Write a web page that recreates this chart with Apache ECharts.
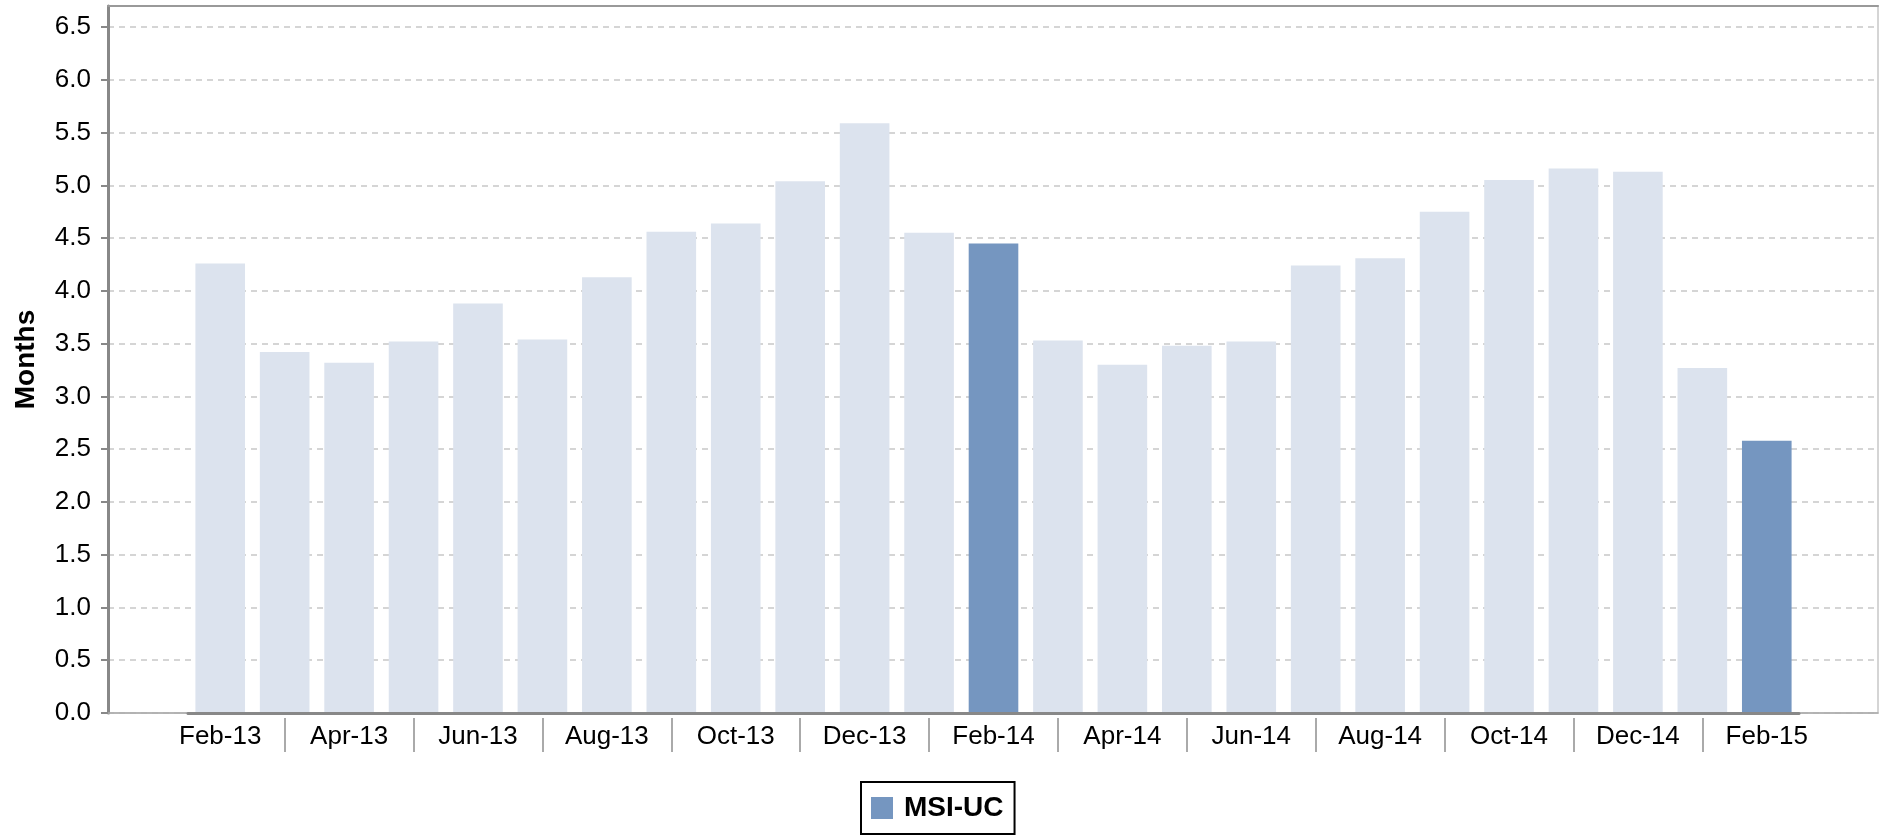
<!DOCTYPE html>
<html>
<head>
<meta charset="utf-8">
<script src="https://cdn.jsdelivr.net/npm/echarts@6/dist/echarts.min.js"></script>
<style>
html,body{margin:0;padding:0;background:#fff;}
#chart{width:1881px;height:835px;}
</style>
</head>
<body>
<div id="chart"></div>
<script>
const categories = ['Feb-13','Mar-13','Apr-13','May-13','Jun-13','Jul-13','Aug-13','Sep-13','Oct-13','Nov-13','Dec-13','Jan-14',
  'Feb-14','Mar-14','Apr-14','May-14','Jun-14','Jul-14','Aug-14','Sep-14','Oct-14','Nov-14','Dec-14','Jan-15','Feb-15'];
const values = [4.26,3.42,3.32,3.52,3.88,3.54,4.13,4.56,4.64,5.04,5.59,4.55,
  4.45,3.53,3.30,3.48,3.52,4.24,4.31,4.75,5.05,5.16,5.13,3.27,2.58];
const highlighted = ['Feb-14','Feb-15'];
const seriesName = 'MSI-UC';
const yTitle = 'Months';
const yTicks = [0,0.5,1,1.5,2,2.5,3,3.5,4,4.5,5,5.5,6,6.5];

const FONT = "'Liberation Sans', Arial, sans-serif";
const DARK = '#7596c0';
const LIGHT = '#dce3ee';
const Y_MAX = 6.7;

const chart = echarts.init(document.getElementById('chart'));
chart.setOption({
  animation: false,
  backgroundColor: '#fff',
  grid: [
    {left: 108, right: 3, top: 6, bottom: 122, show: true, borderColor: '#c8c8c8', borderWidth: 1.5, containLabel: false},
    {left: 188, right: 82, top: 6, bottom: 122, containLabel: false}
  ],
  legend: {
    data: [seriesName],
    left: 861, top: 782,
    padding: [12, 11, 12, 10],
    borderColor: '#000', borderWidth: 2,
    itemWidth: 22, itemHeight: 22,
    icon: 'rect',
    textStyle: {fontFamily: FONT, fontSize: 28, fontWeight: 'bold', color: '#000', padding: [0, 0, 0, 6]}
  },
  xAxis: [
    {gridIndex: 0, type: 'value', min: 0, max: 1, position: 'bottom',
      axisLine: {show: true, lineStyle: {color: '#aaa', width: 1.5}},
      axisTick: {show: false}, axisLabel: {show: false}, splitLine: {show: false}},
    {gridIndex: 0, type: 'value', min: 0, max: 1, position: 'top',
      axisLine: {show: true, lineStyle: {color: '#999', width: 2}},
      axisTick: {show: false}, axisLabel: {show: false}, splitLine: {show: false}},
    {gridIndex: 1, type: 'category', data: categories, position: 'bottom', boundaryGap: true,
      axisLine: {show: true, lineStyle: {color: '#888', width: 3}},
      axisTick: {show: false},
      axisLabel: {interval: 1, margin: 11, fontFamily: FONT, fontSize: 26, color: '#000'},
      splitLine: {show: false}, z: 5},
    {gridIndex: 1, type: 'category', data: categories, position: 'bottom', offset: 5, boundaryGap: true,
      axisLine: {show: false},
      axisTick: {show: true, alignWithLabel: true, length: 34, interval: function (i) { return i % 2 === 1; },
        lineStyle: {color: '#aaa', width: 2}},
      axisLabel: {show: false}, splitLine: {show: false}}
  ],
  yAxis: [
    {gridIndex: 0, type: 'value', min: 0, max: Y_MAX, interval: 0.5,
      name: yTitle, nameLocation: 'middle', nameRotate: 90, nameGap: 68,
      nameTextStyle: {fontFamily: FONT, fontSize: 28, fontWeight: 'bold', color: '#000'},
      axisLine: {show: true, lineStyle: {color: '#888', width: 3}},
      axisTick: {show: true, length: 7, lineStyle: {color: '#888', width: 2}, customValues: yTicks},
      axisLabel: {margin: 17, fontFamily: FONT, fontSize: 26, color: '#000', customValues: yTicks,
        formatter: function (v) { return v.toFixed(1); }},
      splitLine: {show: true, lineStyle: {color: '#c8c8c8', width: 1.5, type: [6, 5]}}},
    {gridIndex: 1, type: 'value', min: 0, max: Y_MAX, show: false, splitLine: {show: false}}
  ],
  series: [{
    name: seriesName,
    type: 'bar',
    xAxisIndex: 2, yAxisIndex: 1,
    barCategoryGap: '23%',
    itemStyle: {color: DARK},
    data: categories.map(function (c, i) {
      return highlighted.indexOf(c) >= 0 ? {value: values[i]} : {value: values[i], itemStyle: {color: LIGHT}};
    }),
    z: 2
  }]
});
</script>
</body>
</html>
